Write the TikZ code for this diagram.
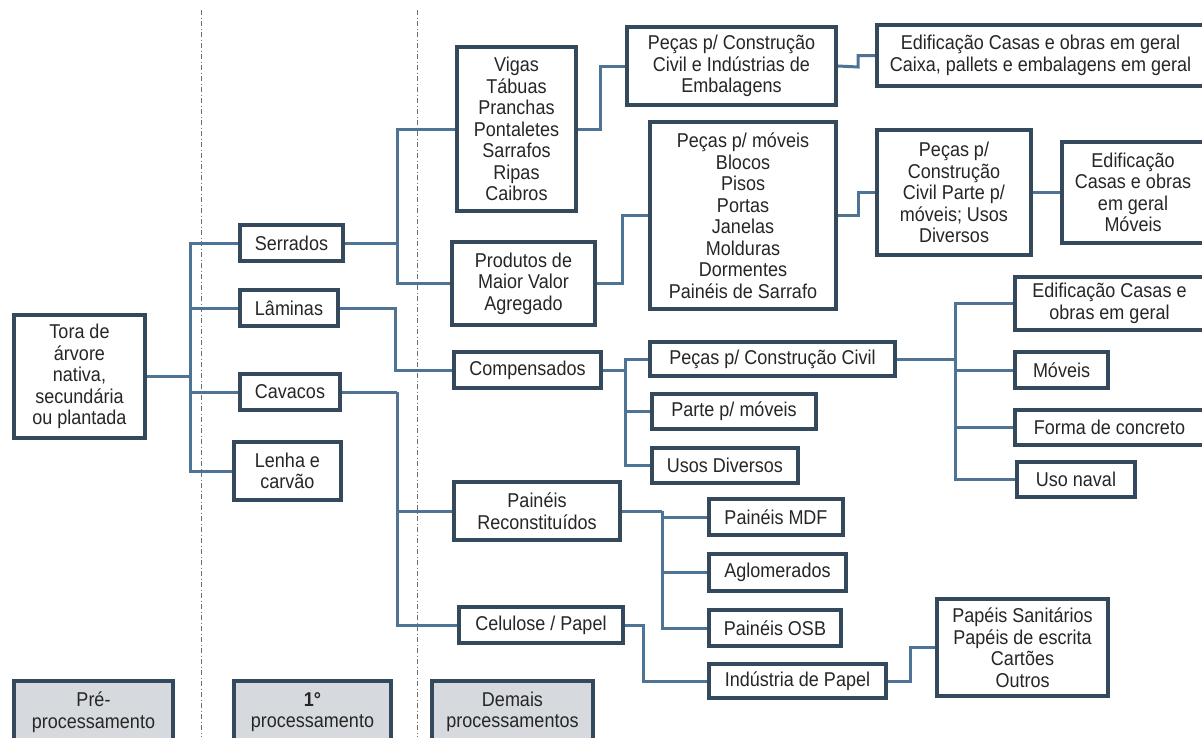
\documentclass[tikz,border=0pt]{standalone}
\usepackage{fontspec}
\setmainfont{Liberation Sans}[FakeStretch=0.9]
\usetikzlibrary{backgrounds}
\definecolor{boxcol}{HTML}{34495C}
\definecolor{linecol}{HTML}{4E7394}
\definecolor{graycol}{HTML}{D6D9DE}
\definecolor{dashcol}{HTML}{707070}
\tikzset{
 box/.style={draw=boxcol, line width=4pt, fill=white, align=center, inner sep=0pt,
   text=black!85, font=\fontsize{20}{21.5}\selectfont},
 graybox/.style={fill=graycol},
 conn/.style={draw=linecol, line width=3pt},
 sepline/.style={draw=dashcol, line width=0.8pt, dash pattern=on 5pt off 2.5pt on 1pt off 2.5pt}
}
\newcommand\mybox[7][]{\node[box,#1,minimum width={#5pt-#3pt-4pt},minimum height={#6pt-#4pt-4pt}] (#2) at ({(#3+#5)/2},{(#4+#6)/2}) {#7};}
\begin{document}
\begin{tikzpicture}[x=1pt,y=-1pt]
\clip (0,0) rectangle (1202,737);

% boxes
\mybox{tora}{12}{313}{147}{440}{Tora de\\árvore\\nativa,\\secundária\\ou plantada}
\mybox{serr}{238}{223}{345}{263}{Serrados}
\mybox{lam}{238}{288}{340}{328}{Lâminas}
\mybox{cav}{238}{372}{342}{412}{Cavacos}
\mybox{lenha}{232}{440}{343}{502}{Lenha e\\carvão}
\mybox{vigas}{455}{45}{578}{213}{Vigas\\Tábuas\\Pranchas\\Pontaletes\\Sarrafos\\Ripas\\Caibros}
\mybox{prod}{450}{240}{597}{327}{Produtos de\\Maior Valor\\Agregado}
\mybox{pcc}{625}{25}{838}{107}{Peças p/ Construção\\Civil e Indústrias de\\Embalagens}
\mybox{edif1}{875}{23}{1206}{88}{Edificação Casas e obras em geral\\Caixa, pallets e embalagens em geral}
\mybox{pmov}{648}{120}{838}{311}{Peças p/ móveis\\Blocos\\Pisos\\Portas\\Janelas\\Molduras\\Dormentes\\Painéis de Sarrafo}
\mybox{pcp}{875}{128}{1033}{257}{Peças p/\\Construção\\Civil Parte p/\\móveis; Usos\\Diversos}
\mybox{edif2}{1060}{140}{1206}{245}{Edificação\\Casas e obras\\em geral\\Móveis}
\mybox{comp}{452}{350}{603}{390}{Compensados}
\mybox{pcivil}{648}{340}{897}{378}{Peças p/ Construção Civil}
\mybox{parte}{650}{392}{818}{431}{Parte p/ móveis}
\mybox{usos}{650}{446}{800}{485}{Usos Diversos}
\mybox{edif3}{1013}{275}{1206}{332}{Edificação Casas e\\obras em geral}
\mybox{moveis}{1013}{350}{1110}{390}{Móveis}
\mybox{forma}{1013}{408}{1206}{447}{Forma de concreto}
\mybox{naval}{1015}{460}{1137}{499}{Uso naval}
\mybox{paineis}{452}{480}{622}{542}{Painéis\\Reconstituídos}
\mybox{cel}{457}{605}{625}{645}{Celulose / Papel}
\mybox{mdf}{707}{497}{845}{537}{Painéis MDF}
\mybox{aglo}{707}{552}{848}{593}{Aglomerados}
\mybox{osb}{707}{608}{843}{648}{Painéis OSB}
\mybox{ind}{707}{662}{888}{700}{Indústria de Papel}
\mybox{papeis}{935}{597}{1110}{698}{Papéis Sanitários\\Papéis de escrita\\Cartões\\Outros}
\mybox[graybox]{pre}{12}{679}{175}{745}{Pré-\\processamento}
\mybox[graybox]{prim}{232}{679}{393}{745}{\textbf{1°}\\processamento}
\mybox[graybox]{demais}{430}{679}{595}{745}{Demais\\processamentos}

% junctions
\coordinate (jt) at (190,376.5);
\coordinate (js) at (397,243);
\coordinate (jv) at (600,129);
\coordinate (jc) at (858,67);
\coordinate (jp) at (622,283.5);
\coordinate (jm) at (858,215.5);
\coordinate (jl) at (395,308);
\coordinate (jco) at (625,370);
\coordinate (jpc) at (955,359);
\coordinate (jca) at (397,392);
\coordinate (jpa) at (662,511);
\coordinate (jce) at (643,625);
\coordinate (ji) at (910,681);

\begin{scope}[on background layer]
\draw[sepline] (201,10) -- (201,737);
\draw[sepline] (417,10) -- (417,737);
\draw[conn] (tora.east) -- (jt);
\foreach \n in {serr,lam,cav,lenha} \draw[conn] (jt) |- (\n.west);
\draw[conn] (serr.east) -- (js);
\foreach \n in {vigas,prod} \draw[conn] (js) |- (\n.west);
\draw[conn] (vigas.east) -- (jv) |- (pcc.west);
\draw[conn] (pcc.east) -- (jc) |- (edif1.west);
\draw[conn] (prod.east) -- (jp) |- (pmov.west);
\draw[conn] (pmov.east) -- (jm) |- (pcp.west);
\draw[conn] (pcp.east) -- (edif2.west);
\draw[conn] (lam.east) -- (jl) |- (comp.west);
\draw[conn] (comp.east) -- (jco);
\foreach \n in {pcivil,parte,usos} \draw[conn] (jco) |- (\n.west);
\draw[conn] (pcivil.east) -- (jpc);
\foreach \n in {edif3,moveis,forma,naval} \draw[conn] (jpc) |- (\n.west);
\draw[conn] (cav.east) -- (jca);
\foreach \n in {paineis,cel} \draw[conn] (jca) |- (\n.west);
\draw[conn] (paineis.east) -- (jpa);
\foreach \n in {mdf,aglo,osb} \draw[conn] (jpa) |- (\n.west);
\draw[conn] (cel.east) -- (jce) |- (ind.west);
\draw[conn] (ind.east) -- (ji) |- (papeis.west);
\end{scope}
\end{tikzpicture}
\end{document}
